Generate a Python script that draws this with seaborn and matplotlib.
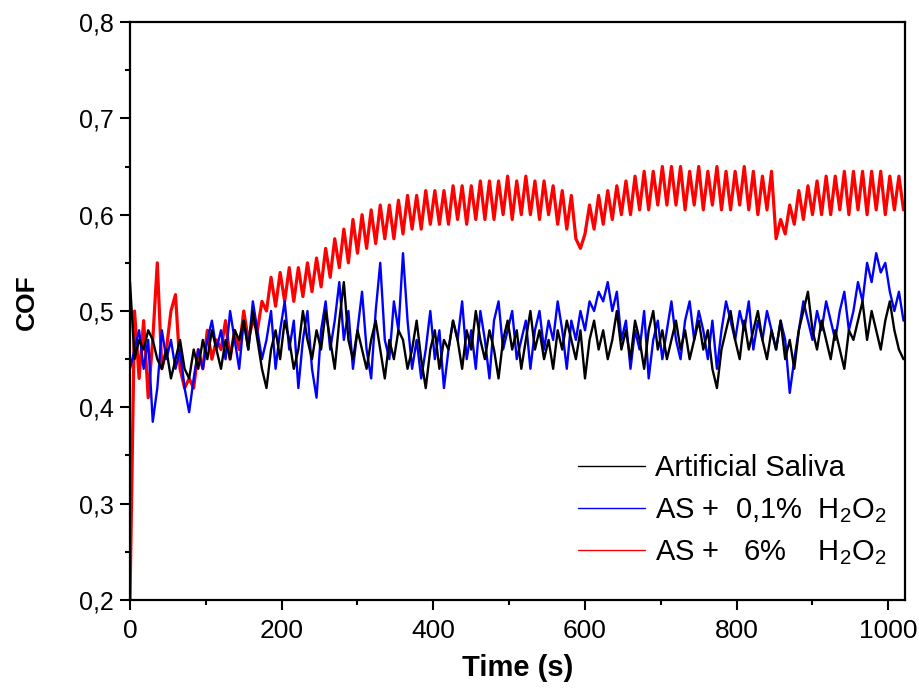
import numpy as np
import pandas as pd
import matplotlib
matplotlib.use("Agg")
import matplotlib.pyplot as plt
import seaborn as sns
from matplotlib.ticker import FixedLocator, FixedFormatter, MultipleLocator

# ---------------- data (6 s sampling) ----------------
time_s = np.arange(0, 1021, 6)

cof_saliva = [
    0.53, 0.45, 0.47, 0.46, 0.48, 0.47, 0.45, 0.44, 0.46, 0.43,
    0.45, 0.47, 0.44, 0.43, 0.46, 0.44, 0.47, 0.45, 0.48, 0.46,
    0.44, 0.47, 0.45, 0.48, 0.47, 0.49, 0.46, 0.50, 0.47, 0.44,
    0.42, 0.46, 0.48, 0.45, 0.49, 0.47, 0.44, 0.46, 0.50, 0.47,
    0.45, 0.48, 0.46, 0.50, 0.47, 0.44, 0.49, 0.53, 0.47, 0.45,
    0.48, 0.46, 0.44, 0.47, 0.49, 0.46, 0.43, 0.47, 0.45, 0.48,
    0.47, 0.44, 0.46, 0.49, 0.45, 0.42, 0.46, 0.48, 0.44, 0.47,
    0.46, 0.49, 0.47, 0.44, 0.48, 0.46, 0.50, 0.47, 0.45, 0.48,
    0.46, 0.43, 0.47, 0.49, 0.46, 0.48, 0.44, 0.47, 0.50, 0.46,
    0.48, 0.45, 0.47, 0.44, 0.48, 0.46, 0.49, 0.47, 0.45, 0.48,
    0.43, 0.47, 0.49, 0.46, 0.48, 0.45, 0.47, 0.50, 0.46, 0.48,
    0.45, 0.49, 0.47, 0.44, 0.48, 0.50, 0.46, 0.48, 0.45, 0.47,
    0.49, 0.46, 0.48, 0.45, 0.47, 0.49, 0.46, 0.48, 0.44, 0.42,
    0.46, 0.48, 0.50, 0.47, 0.45, 0.49, 0.46, 0.48, 0.50, 0.47,
    0.45, 0.48, 0.46, 0.49, 0.45, 0.47, 0.44, 0.48, 0.50, 0.52,
    0.48, 0.46, 0.49, 0.47, 0.45, 0.48, 0.46, 0.44, 0.48, 0.47,
    0.49, 0.51, 0.47, 0.50, 0.48, 0.46, 0.49, 0.51, 0.48, 0.46,
    0.45,
]

cof_h2o2_01 = [
    0.44, 0.46, 0.48, 0.44, 0.47, 0.385, 0.42, 0.48, 0.45, 0.47,
    0.44, 0.46, 0.42, 0.395, 0.43, 0.46, 0.44, 0.47, 0.49, 0.46,
    0.48, 0.45, 0.50, 0.47, 0.44, 0.49, 0.46, 0.51, 0.48, 0.45,
    0.47, 0.50, 0.44, 0.48, 0.51, 0.46, 0.49, 0.42, 0.47, 0.50,
    0.44, 0.41, 0.48, 0.51, 0.46, 0.49, 0.53, 0.47, 0.50, 0.44,
    0.48, 0.52, 0.46, 0.43, 0.50, 0.55, 0.47, 0.45, 0.51, 0.48,
    0.56, 0.49, 0.44, 0.47, 0.43, 0.46, 0.50, 0.45, 0.48, 0.42,
    0.46, 0.49, 0.47, 0.51, 0.45, 0.48, 0.44, 0.50, 0.47, 0.43,
    0.49, 0.51, 0.46, 0.48, 0.50, 0.45, 0.47, 0.49, 0.44, 0.48,
    0.50, 0.46, 0.49, 0.47, 0.51, 0.48, 0.44, 0.49, 0.47, 0.50,
    0.48, 0.51, 0.50, 0.52, 0.51, 0.53, 0.50, 0.52, 0.47, 0.49,
    0.44, 0.48, 0.46, 0.50, 0.43, 0.47, 0.49, 0.45, 0.48, 0.51,
    0.47, 0.45, 0.49, 0.51, 0.47, 0.50, 0.48, 0.45, 0.49, 0.44,
    0.48, 0.51, 0.49, 0.47, 0.50, 0.48, 0.51, 0.46, 0.49, 0.47,
    0.50, 0.48, 0.46, 0.49, 0.47, 0.415, 0.45, 0.48, 0.51, 0.49,
    0.47, 0.50, 0.48, 0.51, 0.49, 0.47, 0.50, 0.52, 0.48, 0.50,
    0.53, 0.51, 0.55, 0.53, 0.56, 0.54, 0.55, 0.52, 0.50, 0.52,
    0.49,
]

cof_h2o2_6 = [
    0.20, 0.50, 0.43, 0.49, 0.41, 0.47, 0.55, 0.44, 0.46, 0.50,
    0.517, 0.44, 0.42, 0.43, 0.42, 0.46, 0.44, 0.48, 0.45, 0.47,
    0.46, 0.49, 0.45, 0.48, 0.46, 0.50, 0.47, 0.49, 0.48, 0.51,
    0.50, 0.535, 0.505, 0.54, 0.51, 0.545, 0.51, 0.545, 0.515, 0.55,
    0.52, 0.555, 0.525, 0.565, 0.535, 0.575, 0.545, 0.585, 0.55, 0.595,
    0.56, 0.60, 0.565, 0.605, 0.57, 0.61, 0.575, 0.61, 0.575, 0.615,
    0.58, 0.62, 0.585, 0.62, 0.585, 0.625, 0.59, 0.625, 0.59, 0.625,
    0.59, 0.63, 0.595, 0.63, 0.59, 0.63, 0.595, 0.635, 0.595, 0.635,
    0.595, 0.635, 0.60, 0.64, 0.595, 0.635, 0.60, 0.64, 0.60, 0.635,
    0.595, 0.635, 0.60, 0.63, 0.59, 0.625, 0.585, 0.62, 0.575, 0.565,
    0.58, 0.61, 0.585, 0.62, 0.59, 0.625, 0.595, 0.63, 0.60, 0.635,
    0.60, 0.64, 0.605, 0.645, 0.605, 0.645, 0.61, 0.65, 0.61, 0.65,
    0.61, 0.65, 0.605, 0.645, 0.61, 0.65, 0.605, 0.645, 0.61, 0.65,
    0.605, 0.645, 0.605, 0.645, 0.61, 0.65, 0.605, 0.645, 0.60, 0.64,
    0.605, 0.645, 0.575, 0.595, 0.58, 0.61, 0.59, 0.625, 0.595, 0.63,
    0.60, 0.635, 0.60, 0.64, 0.60, 0.64, 0.605, 0.645, 0.60, 0.645,
    0.605, 0.645, 0.60, 0.645, 0.605, 0.645, 0.60, 0.64, 0.605, 0.64,
    0.605,
]

series_labels = ["Artificial Saliva",
                 r"AS +  0,1%  H$_2$O$_2$",
                 r"AS +   6%    H$_2$O$_2$"]
series_colors = ["#000000", "#0000FF", "#FF0000"]
series_widths = [1.7, 1.7, 2.3]

x_ticks = [0, 200, 400, 600, 800, 1000]
x_tick_labels = ["0", "200", "400", "600", "800", "1000"]
y_ticks = [0.2, 0.3, 0.4, 0.5, 0.6, 0.7, 0.8]
y_tick_labels = ["0,2", "0,3", "0,4", "0,5", "0,6", "0,7", "0,8"]

# ---------------- plotting ----------------
sns.set_theme(style="ticks")
plt.rcParams["font.family"] = ["Liberation Sans", "DejaVu Sans"]
plt.rcParams["mathtext.default"] = "regular"
for k in ["text.color", "axes.labelcolor", "xtick.color", "ytick.color"]:
    plt.rcParams[k] = "black"

df = pd.DataFrame({
    "t": np.concatenate([time_s] * 3),
    "cof": np.concatenate([cof_saliva, cof_h2o2_01, cof_h2o2_6]),
    "series": np.repeat(series_labels, len(time_s)),
})

fig = plt.figure(figsize=(9.19, 6.88), dpi=100)
ax = fig.add_axes([130 / 919, 1 - 600 / 688, 775 / 919, 578 / 688])

# draw red first, blue, then black on top
for lab, col, lw in zip(series_labels[::-1], series_colors[::-1], series_widths[::-1]):
    sns.lineplot(data=df[df["series"] == lab], x="t", y="cof", color=col,
                 linewidth=lw, ax=ax, label=lab, legend=False)

ax.set_xlim(0, 1022)
ax.set_ylim(0.2, 0.8)

ax.xaxis.set_major_locator(FixedLocator(x_ticks))
ax.xaxis.set_major_formatter(FixedFormatter(x_tick_labels))
ax.xaxis.set_minor_locator(MultipleLocator(100))
ax.yaxis.set_major_locator(FixedLocator(y_ticks))
ax.yaxis.set_major_formatter(FixedFormatter(y_tick_labels))
ax.yaxis.set_minor_locator(MultipleLocator(0.05))

ax.tick_params(axis="both", which="major", direction="out", length=7.5,
               width=1.5, color="black")
ax.tick_params(axis="both", which="minor", direction="out", length=3.8,
               width=1.5, color="black")
ax.tick_params(axis="y", which="major", labelsize=18, pad=4)
ax.tick_params(axis="x", which="major", labelsize=19, pad=6)
ax.tick_params(top=False, right=False, which="both")

for sp in ax.spines.values():
    sp.set_linewidth(1.6)
    sp.set_color("black")

ax.set_xlabel("Time (s)", fontsize=21, fontweight="bold", labelpad=8)
ax.set_ylabel("COF", fontsize=19, fontweight="bold")
ax.yaxis.set_label_coords(-0.118, 0.515)

handles, labels = ax.get_legend_handles_labels()
order = [labels.index(l) for l in series_labels]
leg = ax.legend([handles[i] for i in order], [labels[i] for i in order],
                loc="upper left", bbox_to_anchor=(0.578, 0.252),
                frameon=False, fontsize=21, handlelength=2.3,
                handletextpad=0.35, labelspacing=0.47, borderpad=0,
                borderaxespad=0)
for lh in leg.get_lines():
    lh.set_linewidth(1.0)

fig.savefig("out.png", dpi=100)
